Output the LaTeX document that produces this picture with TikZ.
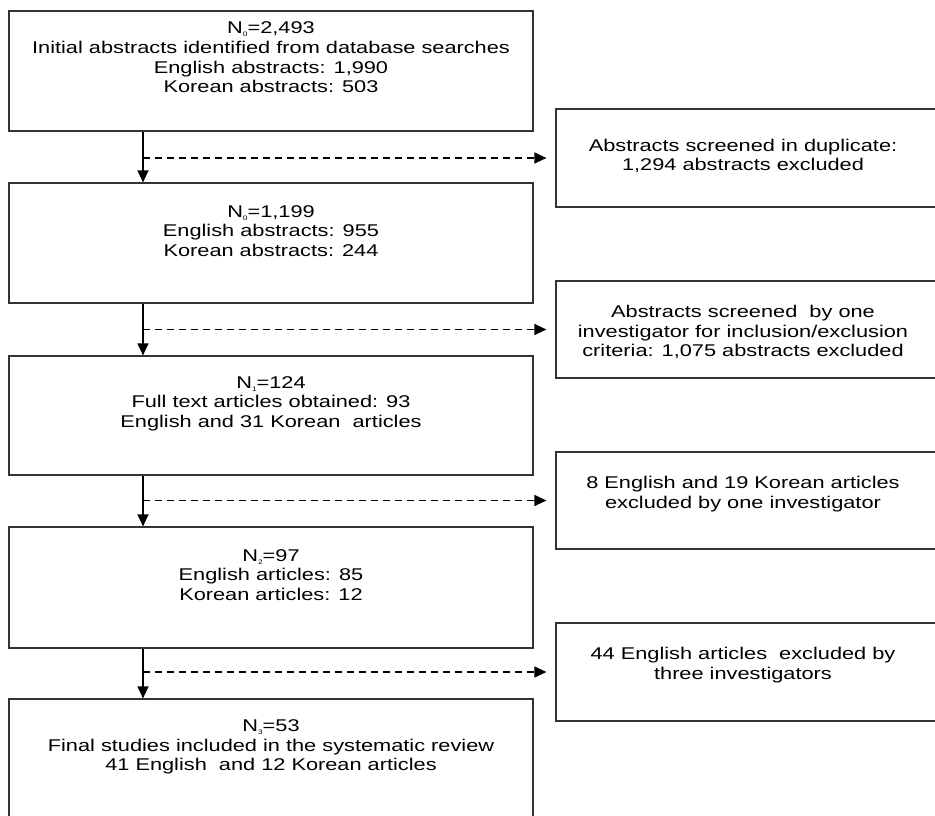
\documentclass[tikz,border=0pt]{standalone}
\usepackage{fontspec}
\setmainfont{Liberation Sans}[FakeStretch=1.28]
\usetikzlibrary{arrows.meta}
\newcommand{\sbs}[1]{\raisebox{-0.35ex}{\fontsize{6.5}{6.5}\selectfont #1}}
\begin{document}
\begin{tikzpicture}[x=1pt,y=-1pt,
  lbox/.style={draw=black!80,line width=1.2pt,minimum width=524pt,inner sep=0pt},
  rbox/.style={draw=black!80,line width=1.2pt,minimum width=384pt,inner sep=0pt},
  txt/.style={align=center,font=\fontsize{17}{19.7}\selectfont,inner sep=0pt},
  flow/.style={line width=1.3pt,-{Triangle[length=12pt,width=11pt]}},
  side/.style={line width=1.3pt,dash pattern=on 7pt off 5pt,-{Triangle[length=12pt,width=11pt]},shorten >=9pt}]
\useasboundingbox (0,0) rectangle (935,816);
% left boxes
\node[lbox,minimum height=120pt] (b1) at (271,71) {};
\node[lbox,minimum height=120pt] (b2) at (271,243) {};
\node[lbox,minimum height=119pt] (b3) at (271,415.5) {};
\node[lbox,minimum height=121pt] (b4) at (271,587.5) {};
\node[lbox,minimum height=120pt] (b5) at (271,759) {};
% right boxes
\node[rbox,minimum height=98pt] (r1) at (748,158) {};
\node[rbox,minimum height=97pt] (r2) at (748,329.5) {};
\node[rbox,minimum height=97pt] (r3) at (748,500.5) {};
\node[rbox,minimum height=98pt] (r4) at (748,672) {};
% texts
\node[txt] (t1) at (271,57.5) {N\sbs{0}=2,493\\Initial abstracts identified from database searches\\English abstracts: 1,990\\Korean abstracts: 503};
\node[txt] (t2) at (271,231) {N\sbs{0}=1,199\\English abstracts: 955\\Korean abstracts: 244};
\node[txt] (t3) at (271,403.7) {N\sbs{1}=124\\Full text articles obtained: 93\\English and 31 Korean\ \ articles};
\node[txt] (t4) at (271,575) {N\sbs{2}=97\\English articles: 85\\Korean articles: 12};
\node[txt] (t5) at (271,747) {N\sbs{3}=53\\Final studies included in the systematic review\\41 English\ \ and 12 Korean articles};
\node[txt] (u1) at (743,156) {Abstracts screened in duplicate:\\1,294 abstracts excluded};
\node[txt] (u2) at (743,332) {Abstracts screened\ \ by one\\investigator for inclusion/exclusion\\criteria: 1,075 abstracts excluded};
\node[txt] (u3) at (743,494) {8 English and 19 Korean articles\\excluded by one investigator};
\node[txt] (u4) at (743,665) {44 English articles\ \ excluded by\\three investigators};
% connectors
\coordinate (sp) at (143,0);
\draw[flow] (b1.south -| sp) -- (b2.north -| sp);
\draw[flow] (b2.south -| sp) -- (b3.north -| sp);
\draw[flow] (b3.south -| sp) -- (b4.north -| sp);
\draw[flow] (b4.south -| sp) -- (b5.north -| sp);
\draw[side] (r1.west -| sp) -- (r1.west);
\draw[side] (r2.west -| sp) -- (r2.west);
\draw[side] (r3.west -| sp) -- (r3.west);
\draw[side] (r4.west -| sp) -- (r4.west);
\end{tikzpicture}
\end{document}
